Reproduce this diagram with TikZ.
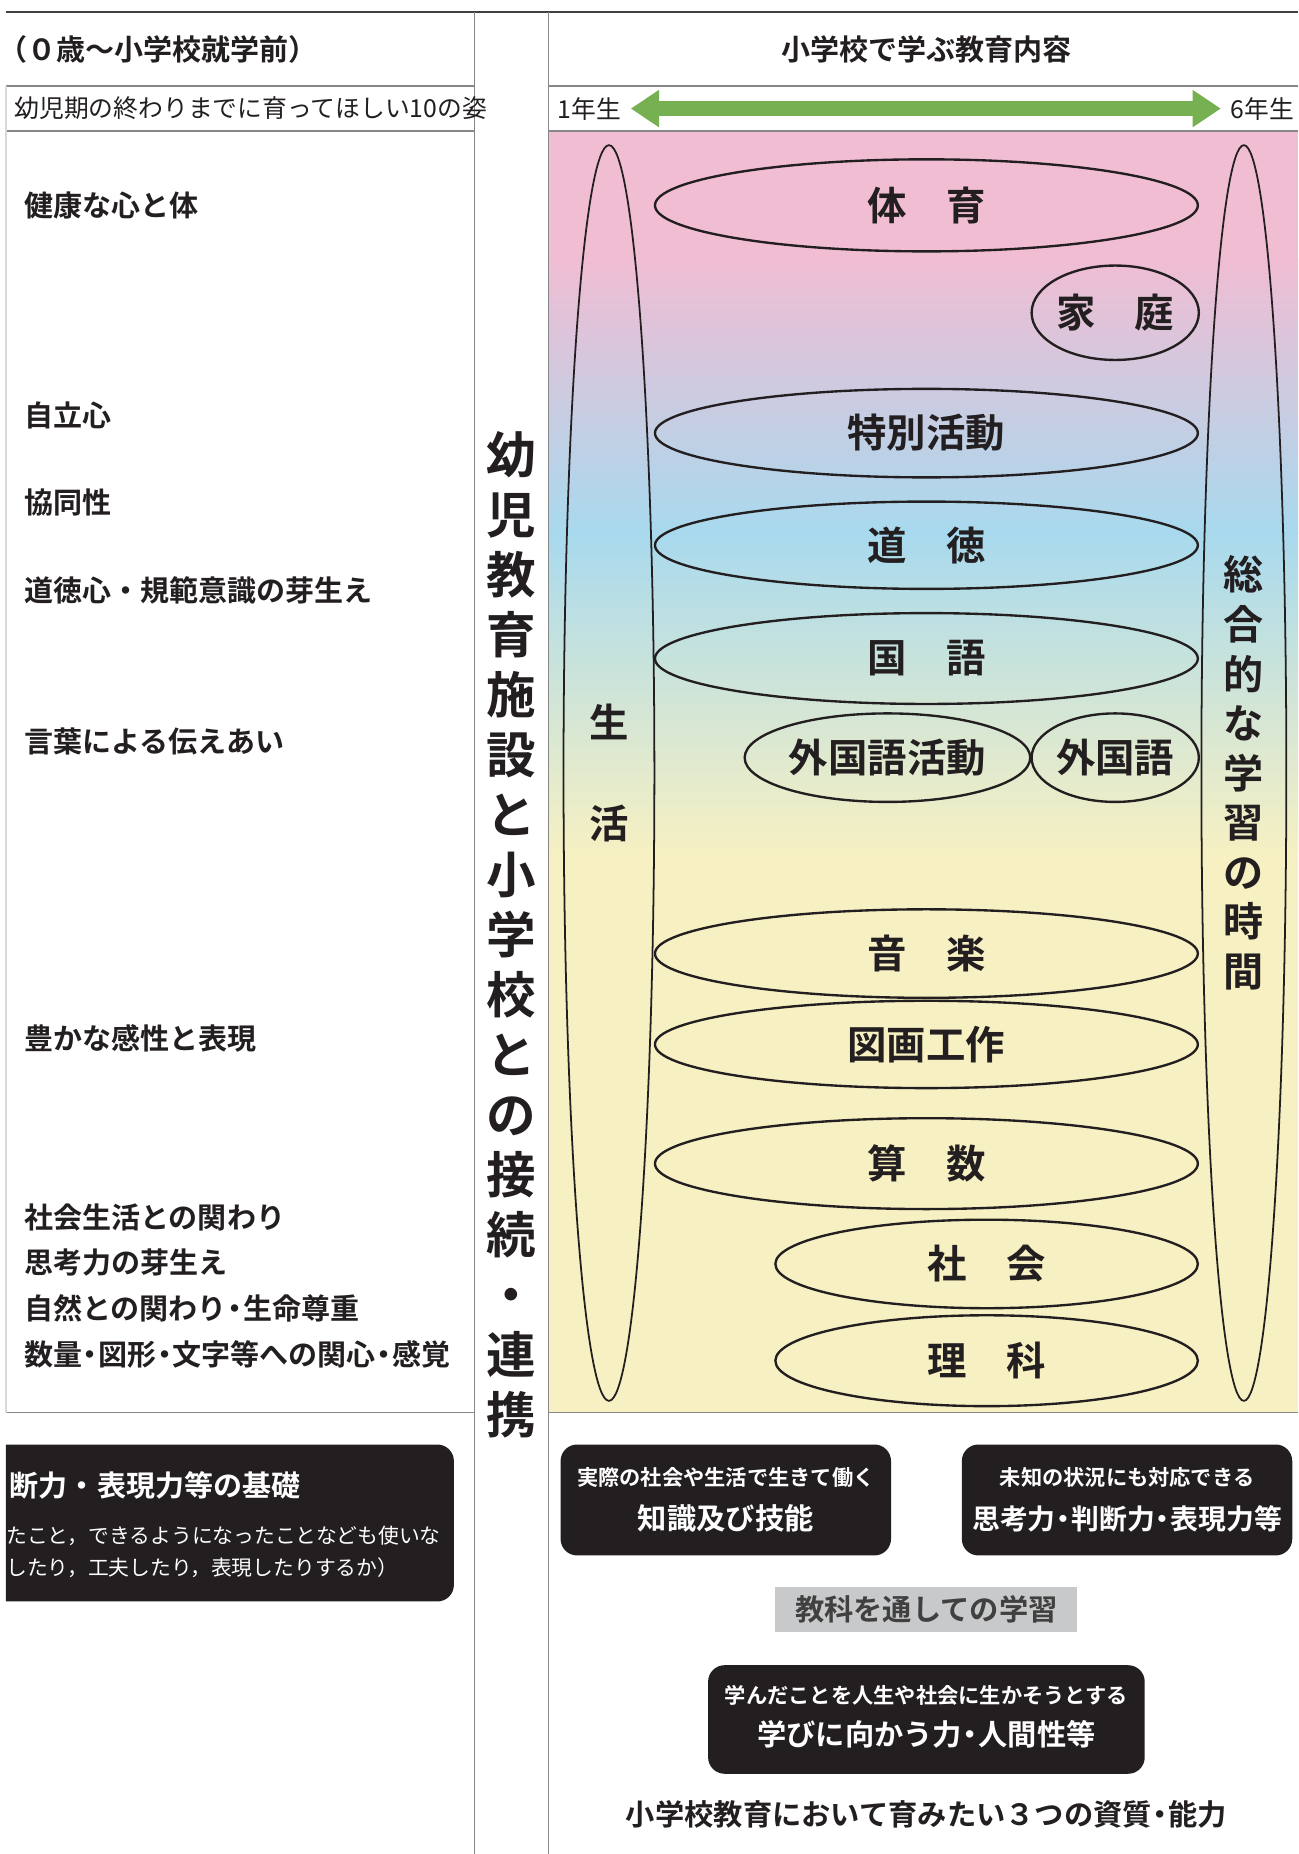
\documentclass[tikz,border=0pt]{standalone}
\usepackage{fontspec}
\setmainfont{Noto Sans CJK JP}[BoldFont={* Bold}]
\usetikzlibrary{shapes.geometric, arrows.meta, positioning}
\definecolor{inkblack}{RGB}{35,31,32}
\definecolor{rulegray}{RGB}{135,135,135}
\definecolor{bgpink}{RGB}{240,189,211}
\definecolor{bgblue}{RGB}{168,217,238}
\definecolor{bgyellow}{RGB}{246,240,194}
\definecolor{gradegreen}{RGB}{118,176,81}
\definecolor{labelgray}{RGB}{200,201,202}
\newcommand{\fsz}[2]{\fontsize{#1pt}{#2pt}\selectfont}
\newcommand{\nakaguro}{\kern-0.22em・\kern-0.22em}

\tikzset{
  leftitem/.style={anchor=west, inner sep=0pt, text=inkblack, font=\bfseries\fsz{12.3}{14}},
  subj/.style={ellipse, draw=inkblack, line width=1pt, inner sep=0pt, text=inkblack, font=\bfseries\fsz{16.7}{20}},
  tallsubj/.style={ellipse, draw=inkblack, line width=0.75pt, inner sep=0pt, text=inkblack, align=center},
  blackbox/.style={fill=inkblack, rounded corners=7pt, inner sep=0pt},
  boxsmall/.style={inner sep=0pt, text=white, font=\bfseries\fsz{9}{11}},
  boxlarge/.style={inner sep=0pt, text=white, font=\bfseries\fsz{12.4}{15}},
  rulethin/.style={draw=rulegray, line width=0.6pt},
  gradearrow/.style={draw=gradegreen, line width=6.5pt,
    {Triangle[length=12pt, width=15pt]}-{Triangle[length=12pt, width=15pt]},
    shorten <=4pt, shorten >=4pt}
}

\begin{document}
\begin{tikzpicture}[x=0.5pt, y=-0.5pt]
\useasboundingbox (0,0) rectangle (1100,1571);

\fill[bgpink] (465,111) rectangle (1100,222);
\shade[top color=bgpink, bottom color=bgblue] (465,220) rectangle (1100,452);
\shade[top color=bgblue, bottom color=bgyellow] (465,450) rectangle (1100,722);
\fill[bgyellow] (465,720) rectangle (1100,1197);

\draw[line width=1pt, draw=black!75] (5,10) -- (1100,10);
\draw[rulethin] (402,10) -- (402,1571);
\draw[rulethin] (465,10) -- (465,1571);
\draw[rulethin] (5,73) -- (402,73);
\draw[rulethin] (5,111) -- (402,111);
\draw[rulethin] (5,1197) -- (402,1197);
\draw[draw=black!15, line width=0.6pt] (5,73) -- (5,1197);
\draw[rulethin] (465,73) -- (1100,73);
\draw[rulethin] (465,111) -- (1100,111);
\draw[rulethin] (465,1197) -- (1100,1197);

\node[anchor=west, inner sep=0pt, text=inkblack, font=\bfseries\fsz{12.3}{14}] (agehead) at (-2,42) {（０歳〜小学校就学前）};
\node[anchor=west, inner sep=0pt, text=inkblack, font=\fsz{10.5}{12}] (sugata) at (12,92) {幼児期の終わりまでに育ってほしい10の姿};

\node[leftitem] (kenkou) at (20,174) {健康な心と体};
\node[leftitem] (jiritsu) at (20,352) {自立心};
\node[leftitem] (kyoudou) at (20,426) {協同性};
\node[leftitem] (doutokushin) at (20,500) {道徳心・規範意識の芽生え};
\node[leftitem] (kotoba) at (20,628) {言葉による伝えあい};
\node[leftitem] (kansei) at (20,880) {豊かな感性と表現};
\node[leftitem] (shakaiseikatsu) at (20,1032) {社会生活との関わり};
\node[leftitem] (shikou) at (20,1070) {思考力の芽生え};
\node[leftitem] (shizen) at (20,1109) {自然との関わり\nakaguro 生命尊重};
\node[leftitem] (suuryou) at (20,1148) {数量\nakaguro 図形\nakaguro 文字等への関心\nakaguro 感覚};

\node[inner sep=0pt, align=center, text=inkblack, font=\bfseries\fsz{21}{25.4}] (setsuzoku) at (433,792)
  {幼\\児\\教\\育\\施\\設\\と\\小\\学\\校\\と\\の\\接\\続\\・\\連\\携};

\node[inner sep=0pt, text=inkblack, font=\bfseries\fsz{12.3}{14}] (naiyou) at (785,42) {小学校で学ぶ教育内容};
\node[anchor=west, inner sep=0pt, text=inkblack, font=\fsz{10.5}{12}] (g1) at (472,92) {1年生};
\node[anchor=east, inner sep=0pt, text=inkblack, font=\fsz{10.5}{12}] (g6) at (1097,92) {6年生};
\draw[gradearrow] (g1.east) -- (g6.west);

\node[tallsubj, minimum width=38.5pt, minimum height=532pt, font=\bfseries\fsz{16.7}{42.5}] (seikatsu) at (516,655) {生\\活};
\node[tallsubj, minimum width=36pt, minimum height=532pt, font=\bfseries\fsz{17}{21}] (sougou) at (1054,655)
  {総\\合\\的\\な\\学\\習\\の\\時\\間};

\node[subj, minimum width=230pt, minimum height=39pt] (taiiku) at (785,174) {体　育};
\node[subj, minimum width=70pt, minimum height=40pt] (katei) at (945,265) {家　庭};
\node[subj, minimum width=230pt, minimum height=37.5pt] (tokkatsu) at (785,367) {特別活動};
\node[subj, minimum width=230pt, minimum height=37pt] (doutoku) at (785,462) {道　徳};
\node[subj, minimum width=230pt, minimum height=38.5pt] (kokugo) at (785,558) {国　語};
\node[subj, minimum width=121pt, minimum height=37.5pt] (gaikatsu) at (752,642) {外国語活動};
\node[subj, minimum width=70pt, minimum height=37.5pt] (gaikoku) at (945,642) {外国語};
\node[subj, minimum width=230pt, minimum height=37.5pt] (ongaku) at (785,808) {音　楽};
\node[subj, minimum width=230pt, minimum height=37pt] (zuga) at (785,885) {図画工作};
\node[subj, minimum width=230pt, minimum height=38.5pt] (sansu) at (785,986) {算　数};
\node[subj, minimum width=179pt, minimum height=37.5pt] (shakai) at (836,1071) {社　会};
\node[subj, minimum width=179pt, minimum height=38.5pt] (rika) at (836,1153) {理　科};

\begin{scope}
  \clip (5,1200) rectangle (402,1400);
  \node[blackbox, anchor=east, minimum width=215pt, minimum height=66.5pt] (kiso) at (385,1290.5) {};
\end{scope}
\node[anchor=west, inner sep=0pt, text=white, font=\bfseries\fsz{12.3}{14}] (kisomain) at (8,1259) {断力・表現力等の基礎};
\node[anchor=west, inner sep=0pt, text=white, font=\fsz{8.8}{10}] (kisosub1) at (5,1301) {たこと，できるようになったことなども使いな};
\node[anchor=west, inner sep=0pt, text=white, font=\fsz{8.8}{10}] (kisosub2) at (5,1328) {したり，工夫したり，表現したりするか）};

\node[blackbox, minimum width=140pt, minimum height=47pt] (chishiki) at (615,1271) {};
\node[boxsmall] (chishikisub) at (615,1252) {実際の社会や生活で生きて働く};
\node[boxlarge] (chishikimain) at (615,1287) {知識及び技能};

\node[blackbox, minimum width=140pt, minimum height=47pt] (shikouryoku) at (955,1271) {};
\node[boxsmall] (shikousub) at (955,1252) {未知の状況にも対応できる};
\node[boxlarge, font=\bfseries\fsz{11.8}{14}] (shikoumain) at (955,1287) {思考力\nakaguro 判断力\nakaguro 表現力等};

\node[fill=labelgray, inner sep=0pt, minimum width=128pt, minimum height=19pt, text=black!75, font=\bfseries\fsz{12.4}{14}] (kyouka) at (785,1364) {教科を通しての学習};

\node[blackbox, minimum width=185pt, minimum height=46pt] (manabi) at (785,1457) {};
\node[boxsmall] (manabisub) at (785,1437) {学んだことを人生や社会に生かそうとする};
\node[boxlarge] (manabimain) at (785,1470) {学びに向かう力\nakaguro 人間性等};

\node[inner sep=0pt, text=inkblack, font=\bfseries\fsz{12.4}{14}] (shishitsu) at (785,1537) {小学校教育において育みたい３つの資質\nakaguro 能力};
\end{tikzpicture}
\end{document}
